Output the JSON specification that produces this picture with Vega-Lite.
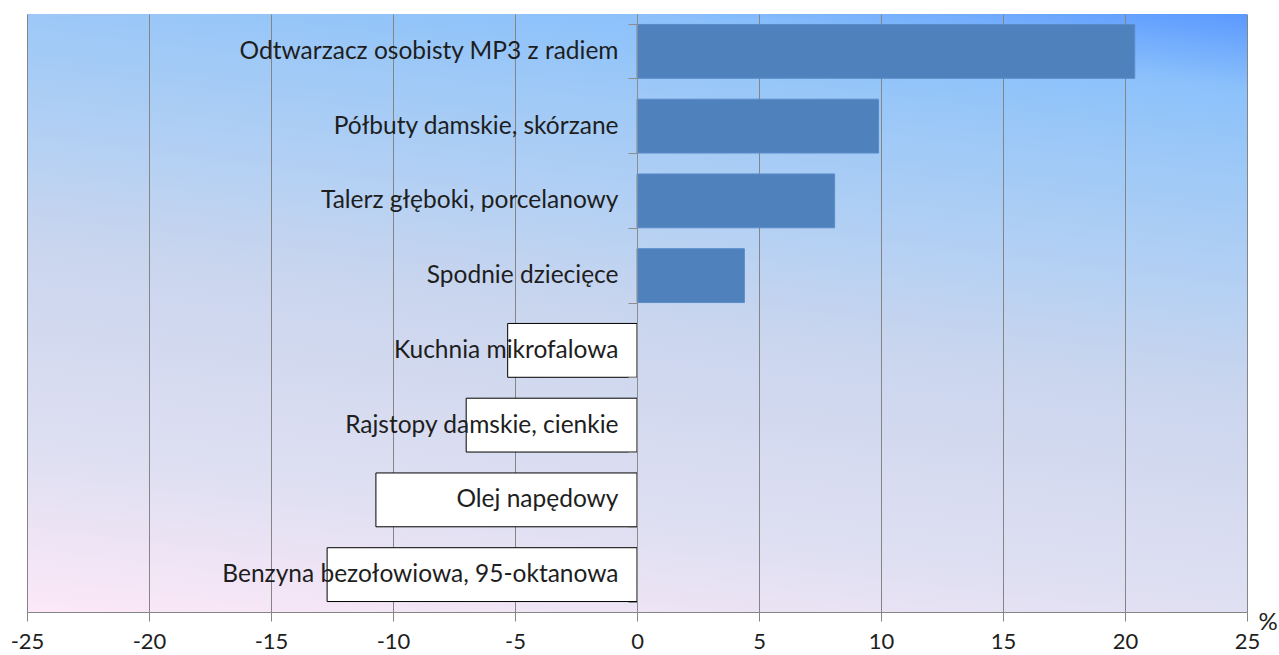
{
  "$schema": "https://vega.github.io/schema/vega-lite/v6.json",
  "width": 1220,
  "height": 598,
  "autosize": {"type": "none"},
  "padding": {"left": 27, "top": 14, "right": 32, "bottom": 43},
  "background": "white",
  "config": {
    "view": {
      "stroke": null,
      "fill": {
        "gradient": "linear",
        "x1": 0, "y1": 1, "x2": 0.294, "y2": -0.176,
        "stops": [
          {"offset": 0, "color": "#fce8f8"},
          {"offset": 0.2, "color": "#e0e0f2"},
          {"offset": 0.5, "color": "#c9d5ee"},
          {"offset": 0.62, "color": "#b6d1f3"},
          {"offset": 0.8, "color": "#9cc8f7"},
          {"offset": 0.9, "color": "#8bc1fb"},
          {"offset": 1, "color": "#5b99ff"}
        ]
      }
    },
    "font": "Lato"
  },
  "data": {
    "values": [
      {"name": "Odtwarzacz osobisty MP3 z radiem", "value": 20.4},
      {"name": "Półbuty damskie, skórzane", "value": 9.9},
      {"name": "Talerz głęboki, porcelanowy", "value": 8.1},
      {"name": "Spodnie dziecięce", "value": 4.4},
      {"name": "Kuchnia mikrofalowa", "value": -5.3},
      {"name": "Rajstopy damskie, cienkie", "value": -7.0},
      {"name": "Olej napędowy", "value": -10.7},
      {"name": "Benzyna bezołowiowa, 95-oktanowa", "value": -12.7}
    ]
  },
  "mark": {"type": "bar", "strokeWidth": 1},
  "encoding": {
    "y": {
      "field": "name",
      "type": "nominal",
      "sort": null,
      "scale": {"paddingInner": 0.28, "paddingOuter": 0.14},
      "axis": {
        "title": null,
        "offset": -610,
        "zindex": 1,
        "tickBand": "extent",
        "tickSize": 9,
        "tickColor": "#8c8c8c",
        "domainColor": "#8c8c8c",
        "labelPadding": 10,
        "labelFont": "Lato",
        "labelFontSize": 24.5,
        "labelColor": "#1e1e1e",
        "labelLimit": 0
      }
    },
    "x": {
      "field": "value",
      "type": "quantitative",
      "scale": {"domain": [-25, 25], "nice": false, "zero": false},
      "axis": {
        "values": [-25, -20, -15, -10, -5, 0, 5, 10, 15, 20, 25],
        "labelExpr": "'' + datum.value",
        "labelFlush": false,
        "labelOverlap": false,
        "grid": true,
        "gridColor": "#858585",
        "gridWidth": 1,
        "tickSize": 9,
        "tickColor": "#858585",
        "domainColor": "#858585",
        "labelPadding": 10,
        "labelFont": "Lato",
        "labelFontSize": 22,
        "labelColor": "#1e1e1e",
        "title": "%",
        "titleFont": "Lato",
        "titleFontSize": 24,
        "titleFontWeight": "normal",
        "titleColor": "#1e1e1e",
        "titleX": 1231,
        "titleY": 17,
        "titleAlign": "left",
        "titleBaseline": "alphabetic"
      }
    },
    "color": {
      "condition": {"test": "datum.value < 0", "value": "#ffffff"},
      "value": "#4f81bd"
    },
    "stroke": {
      "condition": {"test": "datum.value < 0", "value": "#000000"},
      "value": "#5a8cc8"
    },
    "opacity": {"value": 1}
  }
}
